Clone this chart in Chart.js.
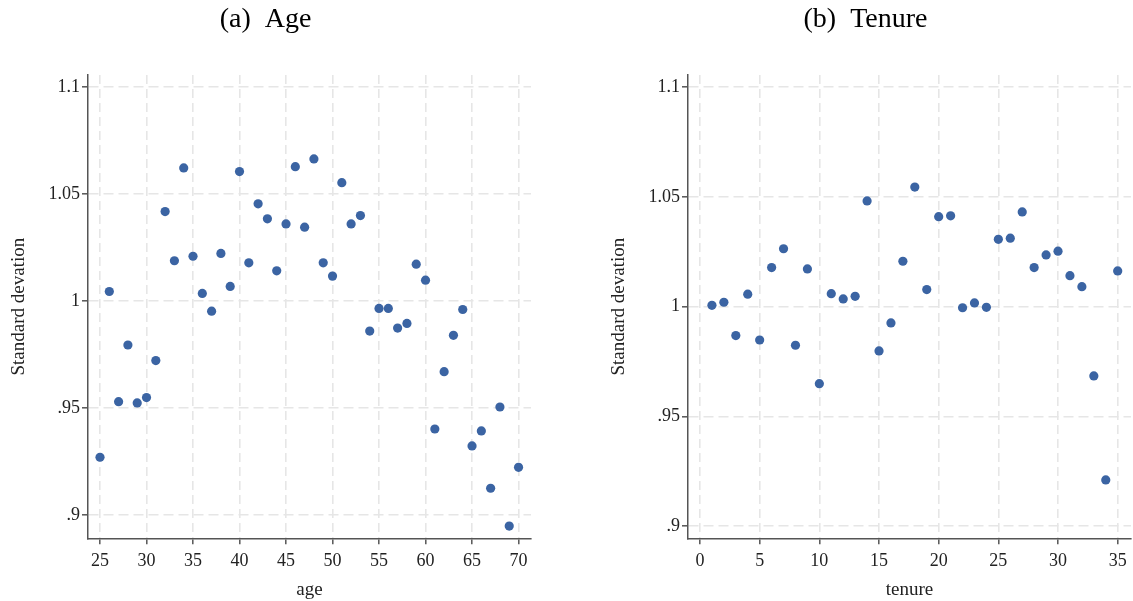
<!DOCTYPE html>
<html>
<head>
<meta charset="utf-8">
<script src="https://cdn.jsdelivr.net/npm/chart.js@4/dist/chart.umd.min.js"></script>
<style>
  html, body { margin: 0; padding: 0; background: #fff; overflow: hidden; }
  .panel { position: absolute; top: 0; }
</style>
</head>
<body>
<canvas id="chart-age" class="panel" style="left:0px" width="536" height="601"></canvas>
<canvas id="chart-tenure" class="panel" style="left:600px" width="536" height="601"></canvas>
<script>
// --- DATA ---
const ages = [25, 26, 27, 28, 29, 30, 31, 32, 33, 34, 35, 36, 37, 38, 39, 40, 41, 42, 43, 44, 45, 46, 47,
              48, 49, 50, 51, 52, 53, 54, 55, 56, 57, 58, 59, 60, 61, 62, 63, 64, 65, 66, 67, 68, 69, 70];
const ageSd = [0.927, 1.0045, 0.953, 0.9795, 0.9524, 0.9549, 0.9722, 1.0419, 1.0189, 1.0623, 1.021,
               1.0036, 0.9953, 1.0223, 1.0069, 1.0606, 1.0179, 1.0455, 1.0385, 1.0142, 1.0361, 1.0629,
               1.0346, 1.0665, 1.0179, 1.0117, 1.0554, 1.0361, 1.040, 0.986, 0.9966, 0.9966, 0.9874,
               0.9896, 1.0173, 1.0098, 0.9402, 0.967, 0.984, 0.9961, 0.9323, 0.9393, 0.9125, 0.9505,
               0.8948, 0.9223];

const tenures = [1, 2, 3, 4, 5, 6, 7, 8, 9, 10, 11, 12, 13, 14, 15, 16, 17, 18, 19, 20, 21, 22, 23, 24,
                 25, 26, 27, 28, 29, 30, 31, 32, 33, 34, 35];
const tenureSd = [1.0006, 1.002, 0.9868, 1.0057, 0.9848, 1.0178, 1.0264, 0.9824, 1.0172, 0.9649, 1.0059,
                  1.0035, 1.0047, 1.0482, 0.9798, 0.9926, 1.0207, 1.0545, 1.0078, 1.041, 1.0414, 0.9995,
                  1.0017, 0.9997, 1.0307, 1.0312, 1.0432, 1.0178, 1.0236, 1.0253, 1.0141, 1.0091, 0.9684,
                  0.921, 1.0163];

const ageTicks = [25, 30, 35, 40, 45, 50, 55, 60, 65, 70];
const tenureTicks = [0, 5, 10, 15, 20, 25, 30, 35];
const sdTicks = [0.9, 0.95, 1, 1.05, 1.1];
const sdTickLabels = ['.9', '.95', '1', '1.05', '1.1'];

// --- STYLE ---
const SERIF = "'Liberation Serif', 'DejaVu Serif', serif";
const DOT_COLOR = '#3b64a3';
const AXIS_COLOR = '#555555';
const GRID_COLOR = '#e6e6e6';

// --- HELPERS ---
function setTicks(values) {
    return function(scale) {
        scale.ticks = values.map(v => ({ value: v }));
    };
}

function makeChart(canvasId, title, xLabel, xs, ys, xTicks, xMin, xMax, yMin, yMax) {
    const points = xs.map((x, i) => ({ x: x, y: ys[i] }));
    return new Chart(document.getElementById(canvasId), {
        type: 'scatter',
        data: {
            datasets: [{
                data: points,
                backgroundColor: DOT_COLOR,
                borderWidth: 0,
                pointRadius: 4.6,
                pointHoverRadius: 4.6
            }]
        },
        options: {
            responsive: false,
            animation: false,
            layout: { padding: { left: 0, right: 5, top: 0, bottom: 0 } },
            plugins: {
                legend: { display: false },
                tooltip: { enabled: false },
                title: {
                    display: true,
                    text: title,
                    color: '#000',
                    font: { family: SERIF, size: 28, weight: 'normal', lineHeight: 1.2 },
                    padding: { top: 3, bottom: 38.4 }
                }
            },
            scales: {
                x: {
                    type: 'linear',
                    min: xMin,
                    max: xMax,
                    afterBuildTicks: setTicks(xTicks),
                    afterFit: function(scale) { scale.height = 62.7; },
                    border: { display: true, color: AXIS_COLOR, width: 1.5, dash: [9, 5] },
                    grid: {
                        color: GRID_COLOR, lineWidth: 1.6,
                        tickColor: AXIS_COLOR, tickLength: 6, tickWidth: 1.5, tickBorderDash: []
                    },
                    ticks: { color: '#222', padding: 6, font: { family: SERIF, size: 18 } },
                    title: {
                        display: true, text: xLabel, color: '#222',
                        font: { family: SERIF, size: 19 }, padding: { top: 0, bottom: 0 }
                    }
                },
                y: {
                    type: 'linear',
                    min: yMin,
                    max: yMax,
                    afterBuildTicks: setTicks(sdTicks),
                    afterFit: function(scale) { scale.width = 88; },
                    border: { display: true, color: AXIS_COLOR, width: 1.5, dash: [10, 5] },
                    grid: {
                        color: GRID_COLOR, lineWidth: 1.6,
                        tickColor: AXIS_COLOR, tickLength: 6, tickWidth: 1.5, tickBorderDash: []
                    },
                    ticks: {
                        color: '#222', padding: 2, font: { family: SERIF, size: 18 },
                        callback: function(value, index) { return sdTickLabels[index]; }
                    },
                    title: {
                        display: true, text: 'Standard devation', color: '#222',
                        font: { family: SERIF, size: 19 }, padding: { top: 8, bottom: 0 }
                    }
                }
            }
        }
    });
}

// --- BUILD ---
makeChart('chart-age', '(a)  Age', 'age', ages, ageSd, ageTicks, 23.71, 71.34, 0.8891, 1.10575);
makeChart('chart-tenure', '(b)  Tenure', 'tenure', tenures, tenureSd, tenureTicks, -1.0055, 36.115, 0.8944, 1.1056);
</script>
</body>
</html>
